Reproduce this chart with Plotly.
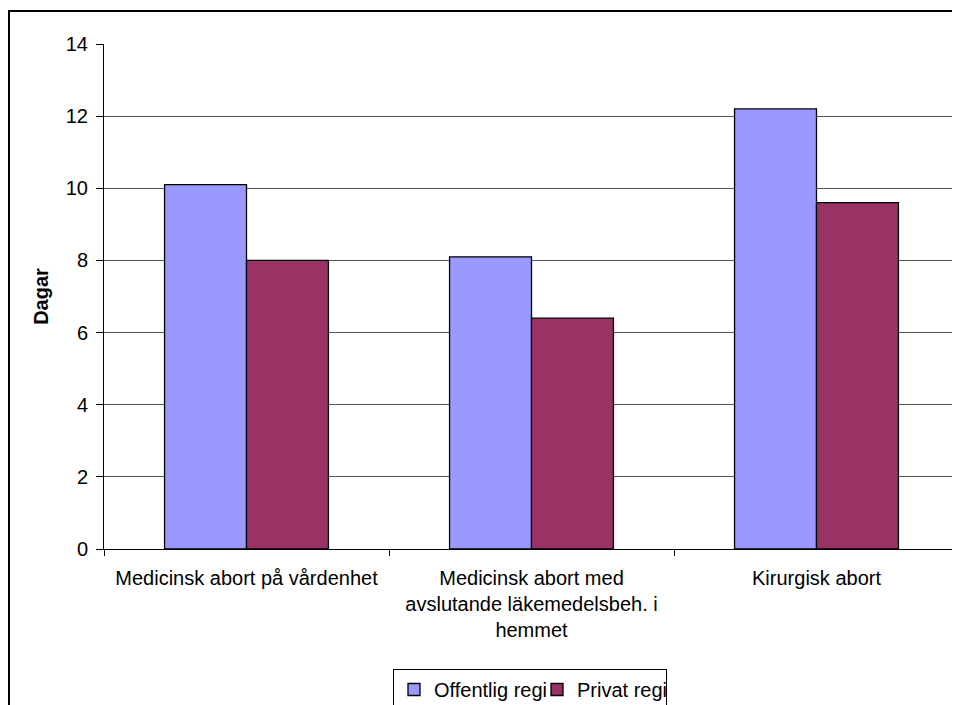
import plotly.graph_objects as go

categories = [
    "Medicinsk abort på vårdenhet",
    "Medicinsk abort med<br>avslutande läkemedelsbeh. i<br>hemmet",
    "Kirurgisk abort",
]
offentlig = [10.1, 8.1, 12.2]
privat = [8.0, 6.4, 9.6]
series_names = ["Offentlig regi", "Privat regi"]
y_ticks = [0, 2, 4, 6, 8, 10, 12, 14]

FONT = "Liberation Sans, Arial, sans-serif"

fig = go.Figure()
fig.add_trace(go.Bar(
    x=categories, y=offentlig, name=series_names[0], legendwidth=98,
    marker=dict(color="#9999FF", line=dict(color="#000000", width=1.3)),
))
fig.add_trace(go.Bar(
    x=categories, y=privat, name=series_names[1], legendwidth=84,
    marker=dict(color="#993366", line=dict(color="#000000", width=1.3)),
))

W, H = 952, 697
L, R, T, B = 96, 1, 36, 156
pw = W - L - R
ph = H - T - B
plot_bottom = H - B

fig.update_layout(
    width=W, height=H,
    margin=dict(l=L, r=R, t=T, b=B, autoexpand=False),
    paper_bgcolor="white", plot_bgcolor="white",
    barmode="group", bargap=0.425, bargroupgap=0,
    font=dict(family=FONT, size=20, color="black"),
    showlegend=True,
    legend=dict(
        orientation="h", x=(522 - L) / pw, xanchor="center",
        y=(plot_bottom - 661) / ph, yanchor="top",
        bordercolor="black", borderwidth=1, bgcolor="white",
        font=dict(family=FONT, size=20, color="black"),
        itemwidth=30, tracegroupgap=0,
    ),
    xaxis=dict(
        showline=True, linecolor="black", linewidth=1,
        ticks="outside", ticklen=6, tickcolor="black", tickson="boundaries",
        ticklabelstandoff=11,
        showgrid=False, tickfont=dict(family=FONT, size=20, color="black"),
        automargin=False,
    ),
    yaxis=dict(
        range=[0, 14], tickvals=y_ticks,
        showline=True, linecolor="black", linewidth=1,
        ticks="outside", ticklen=7, tickcolor="black",
        ticklabelstandoff=4,
        showgrid=True, gridcolor="#555555", gridwidth=1,
        zeroline=False,
        tickfont=dict(family=FONT, size=20, color="black"),
        title=dict(text="<b>Dagar</b>", font=dict(family=FONT, size=20, color="black"), standoff=11),
        automargin=False,
    ),
    shapes=[
        dict(type="line", xref="paper", yref="paper", x0=1, x1=1, y0=0, y1=1,
             line=dict(color="#888888", width=1.5)),
        dict(type="rect", xref="paper", yref="paper",
             x0=(1 - L) / pw, x1=1.2, y0=-0.6, y1=(plot_bottom - 3) / ph,
             line=dict(color="black", width=2), fillcolor="rgba(0,0,0,0)"),
    ],
)

fig.write_html("out.html")
